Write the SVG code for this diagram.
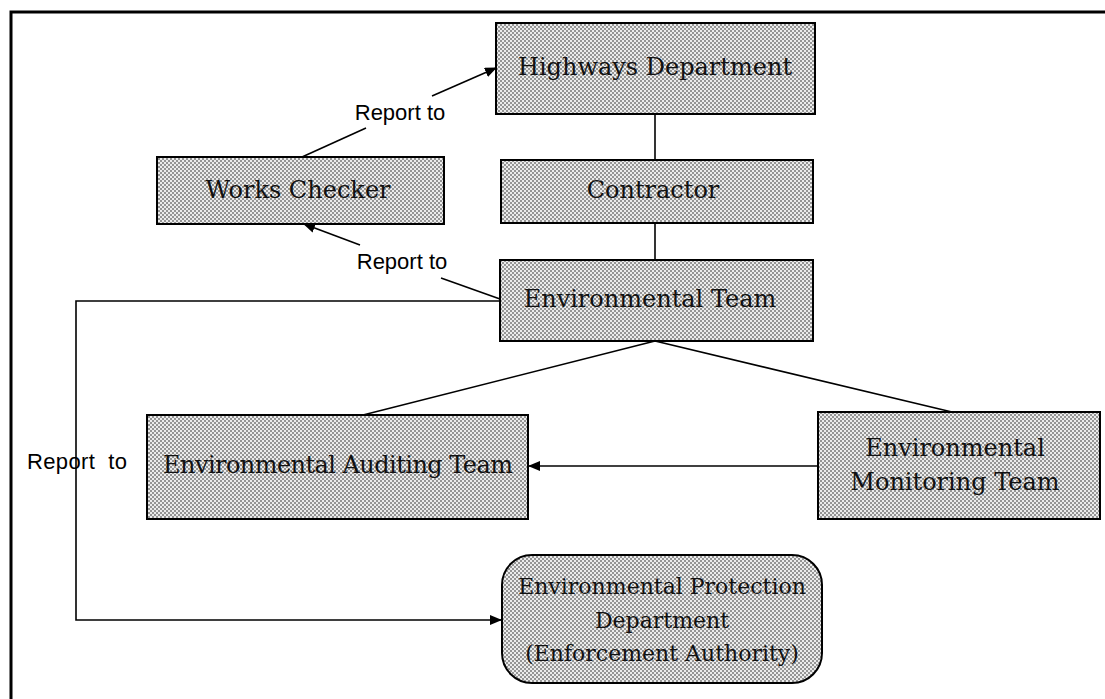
<svg xmlns="http://www.w3.org/2000/svg" width="1105" height="699" viewBox="0 0 1105 699">
<defs>
<pattern id="dots" width="4" height="4" patternUnits="userSpaceOnUse">
<rect width="4" height="4" fill="#ececec"/>
<rect x="0" y="0" width="2" height="2" fill="#959595"/>
<rect x="2" y="2" width="2" height="2" fill="#959595"/>
</pattern>
<marker id="arr" markerWidth="12" markerHeight="10" refX="11" refY="5" orient="auto" markerUnits="userSpaceOnUse">
<path d="M0,0 L12,5 L0,10 Z" fill="#000"/>
</marker>
<style>
.box{fill:url(#dots);stroke:#000;stroke-width:2}
.t{font-family:"DejaVu Serif","Liberation Serif",serif;font-size:24px;fill:#111;text-anchor:middle;dominant-baseline:central}
.s{font-size:22px}
.lbl{font-family:"Liberation Sans",Arial,sans-serif;font-size:22px;fill:#000;text-anchor:middle;dominant-baseline:central}
.ln{fill:none;stroke:#000;stroke-width:1.6}
.frame{fill:none;stroke:#000;stroke-width:3}
</style>
</defs>
<rect width="1105" height="699" fill="#fff"/>
<path class="frame" d="M1105,12 L11,12 L11,699"/>

<g id="connectors">
<line class="ln" x1="655" y1="114" x2="655" y2="160"/>
<line class="ln" x1="655" y1="223" x2="655" y2="260"/>
<line class="ln" x1="655" y1="341" x2="363" y2="415"/>
<line class="ln" x1="655" y1="341" x2="952" y2="412"/>
<line class="ln" x1="818" y1="466" x2="529" y2="466" marker-end="url(#arr)"/>
<line class="ln" x1="302" y1="157" x2="366" y2="128"/>
<line class="ln" x1="432" y1="96" x2="496" y2="68" marker-end="url(#arr)"/>
<line class="ln" x1="500" y1="299" x2="441" y2="278"/>
<line class="ln" x1="360" y1="245" x2="304" y2="224" marker-end="url(#arr)"/>
<path class="ln" d="M500,301 L76,301 L76,620 L501,620" marker-end="url(#arr)"/>
<text class="lbl" x="400" y="112">Report to</text>
<text class="lbl" x="402" y="261">Report to</text>
<text class="lbl" x="77" y="461" textLength="100" xml:space="preserve">Report  to</text>
</g>

<g id="highways">
<rect class="box" x="496" y="23" width="319" height="91"/>
<text class="t" x="655" y="67">Highways Department</text>
</g>
<g id="works-checker">
<rect class="box" x="157" y="157" width="287" height="67"/>
<text class="t" x="298" y="190">Works Checker</text>
</g>
<g id="contractor">
<rect class="box" x="501" y="160" width="312" height="63"/>
<text class="t" x="653" y="190">Contractor</text>
</g>
<g id="env-team">
<rect class="box" x="500" y="260" width="313" height="81"/>
<text class="t" x="650" y="299">Environmental Team</text>
</g>
<g id="auditing">
<rect class="box" x="147" y="415" width="381" height="104"/>
<text class="t" x="338" y="465" textLength="350">Environmental Auditing Team</text>
</g>
<g id="monitoring">
<rect class="box" x="818" y="412" width="282" height="107"/>
<text class="t" x="955" y="448">Environmental</text>
<text class="t" x="955" y="482">Monitoring Team</text>
</g>
<g id="epd">
<rect class="box" x="502" y="555" width="320" height="128" rx="30" ry="30"/>
<text class="t s" x="662" y="586">Environmental Protection</text>
<text class="t s" x="662" y="620">Department</text>
<text class="t s" x="662" y="653">(Enforcement Authority)</text>
</g>
</svg>
